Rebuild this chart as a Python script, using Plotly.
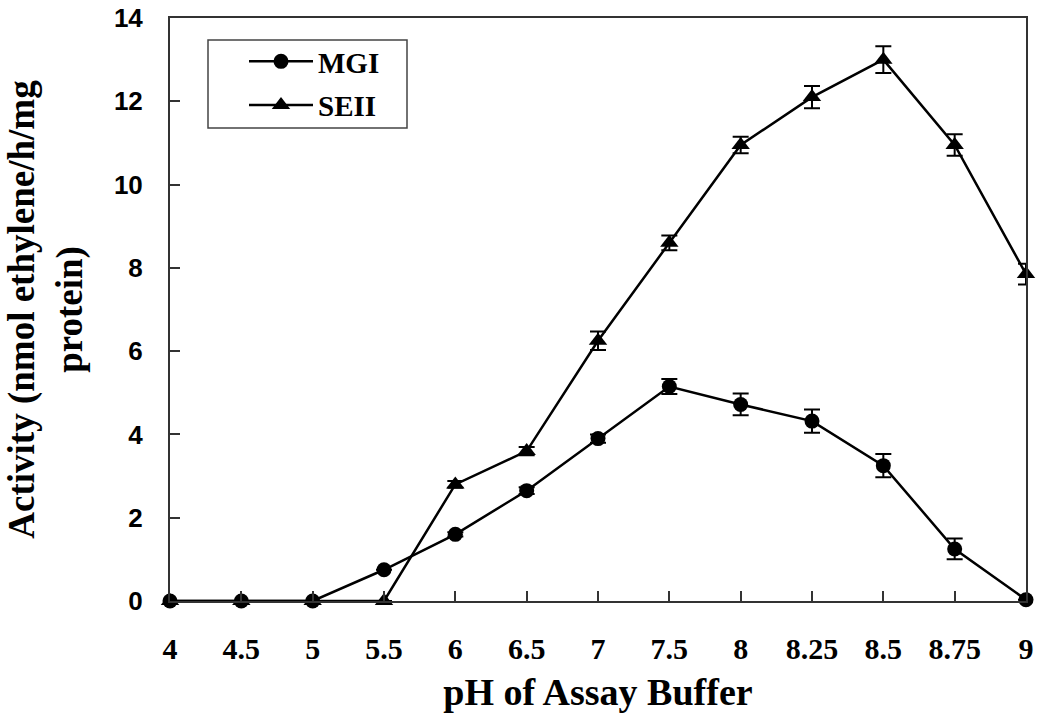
import plotly.graph_objects as go

# pH values of the assay buffer (plotted as evenly spaced categories)
ph_labels = ["4", "4.5", "5", "5.5", "6", "6.5", "7", "7.5", "8", "8.25", "8.5", "8.75", "9"]

# Nitrogenase activity (nmol ethylene/h/mg protein)
mgi_activity = [0.0, 0.0, 0.0, 0.75, 1.6, 2.65, 3.9, 5.15, 4.72, 4.32, 3.25, 1.25, 0.03]
mgi_error = [0.0, 0.0, 0.0, 0.0, 0.05, 0.08, 0.1, 0.18, 0.26, 0.28, 0.28, 0.25, 0.0]

seii_activity = [0.0, 0.0, 0.0, 0.0, 2.8, 3.6, 6.25, 8.6, 10.95, 12.1, 13.0, 10.95, 7.85]
seii_error = [0.0, 0.0, 0.0, 0.0, 0.08, 0.1, 0.22, 0.18, 0.2, 0.27, 0.32, 0.26, 0.25]

y_ticks = [0, 2, 4, 6, 8, 10, 12, 14]

serif = "Liberation Serif, Times New Roman, serif"
sans = "Liberation Sans, Arial, sans-serif"

fig = go.Figure()

fig.add_trace(go.Scatter(
    x=ph_labels, y=mgi_activity, name="MGI", legendgroup="mgi", mode="lines+markers",
    line=dict(color="black", width=2.5),
    marker=dict(symbol="circle", size=15, color="black"),
    error_y=dict(type="data", array=mgi_error, visible=True,
                 color="black", thickness=2, width=8),
    cliponaxis=False,
))

fig.add_trace(go.Scatter(
    x=ph_labels, y=seii_activity, name="SEII", legendgroup="seii", mode="lines+markers",
    line=dict(color="black", width=2.5),
    marker=dict(symbol="triangle-up", size=16, color="black"),
    error_y=dict(type="data", array=seii_error, visible=True,
                 color="black", thickness=2, width=8),
    cliponaxis=False,
))

# Legend frame
fig.add_shape(type="rect", xref="paper", yref="paper",
              x0=(208 - 170) / 856, x1=(407 - 170) / 856,
              y0=(601 - 128) / 583, y1=(601 - 40) / 583,
              line=dict(color="#444", width=1.5), fillcolor="rgba(0,0,0,0)")

fig.update_layout(
    width=1040, height=722,
    margin=dict(l=170, r=14, t=18, b=121, pad=0),
    paper_bgcolor="white", plot_bgcolor="white",
    showlegend=True,
    legend=dict(
        x=(244 - 170) / 856, y=(601 - 36) / 583, xanchor="left", yanchor="top",
        font=dict(family=serif, size=29, color="black", weight="bold"),
        bgcolor="rgba(0,0,0,0)", borderwidth=0, itemwidth=64,
        traceorder="grouped", tracegroupgap=3,
    ),
    xaxis=dict(
        type="category", range=[0, len(ph_labels) - 1], automargin=False,
        showline=True, linecolor="#333", linewidth=2, mirror=True,
        ticks="inside", ticklen=10, tickwidth=1.5, tickcolor="#333",
        showgrid=False, zeroline=False,
        tickfont=dict(family=serif, size=30, color="black", weight="bold"),
        ticklabelstandoff=20,
        title=dict(text="pH of Assay Buffer", standoff=14,
                   font=dict(family=serif, size=38, color="black", weight="bold")),
    ),
    yaxis=dict(
        range=[0, 14], tickvals=y_ticks, automargin=False,
        showline=True, linecolor="#333", linewidth=2, mirror=True,
        ticks="inside", ticklen=10, tickwidth=1.5, tickcolor="#333",
        showgrid=False, zeroline=False,
        tickfont=dict(family=sans, size=26, color="black", weight="bold"),
        ticklabelstandoff=20,
        title=dict(text="Activity (nmol ethylene/h/mg<br>protein)", standoff=20,
                   font=dict(family=serif, size=37, color="black", weight="bold")),
    ),
)

fig.write_html("out.html")
